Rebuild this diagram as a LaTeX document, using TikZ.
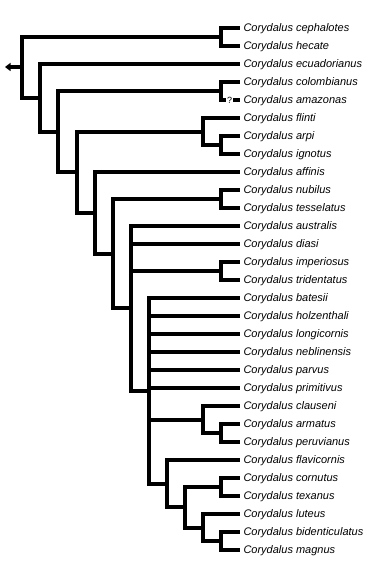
\documentclass[tikz,border=0pt]{standalone}
\usepackage{fontspec}
\setmainfont{Liberation Sans}
\usetikzlibrary{arrows.meta}

\begin{document}
\begin{tikzpicture}[x=1pt, y=-1pt,
    taxon/.style={anchor=west, inner sep=0pt, outer xsep=3.5pt, text height=10pt, text depth=2.6pt, font=\fontsize{11}{13}\selectfont\itshape},
    branch/.style={line width=3.6pt, line join=miter}]
      \useasboundingbox (0,0) rectangle (368,561);

      % taxa
      \node[taxon] (ceph) at (240,28) {Corydalus cephalotes};
      \node[taxon] (hec) at (240,46) {Corydalus hecate};
      \node[taxon] (ecua) at (240,64) {Corydalus ecuadorianus};
      \node[taxon] (colo) at (240,82) {Corydalus colombianus};
      \node[taxon] (amaz) at (240,100) {Corydalus amazonas};
      \node[taxon] (flin) at (240,118) {Corydalus flinti};
      \node[taxon] (arpi) at (240,136) {Corydalus arpi};
      \node[taxon] (igno) at (240,154) {Corydalus ignotus};
      \node[taxon] (affi) at (240,172) {Corydalus affinis};
      \node[taxon] (nubi) at (240,190) {Corydalus nubilus};
      \node[taxon] (tess) at (240,208) {Corydalus tesselatus};
      \node[taxon] (aust) at (240,226) {Corydalus australis};
      \node[taxon] (dias) at (240,244) {Corydalus diasi};
      \node[taxon] (impe) at (240,262) {Corydalus imperiosus};
      \node[taxon] (trid) at (240,280) {Corydalus tridentatus};
      \node[taxon] (bate) at (240,298) {Corydalus batesii};
      \node[taxon] (holz) at (240,316) {Corydalus holzenthali};
      \node[taxon] (long) at (240,334) {Corydalus longicornis};
      \node[taxon] (nebl) at (240,352) {Corydalus neblinensis};
      \node[taxon] (parv) at (240,370) {Corydalus parvus};
      \node[taxon] (prim) at (240,388) {Corydalus primitivus};
      \node[taxon] (clau) at (240,406) {Corydalus clauseni};
      \node[taxon] (arma) at (240,424) {Corydalus armatus};
      \node[taxon] (peru) at (240,442) {Corydalus peruvianus};
      \node[taxon] (flav) at (240,460) {Corydalus flavicornis};
      \node[taxon] (corn) at (240,478) {Corydalus cornutus};
      \node[taxon] (texa) at (240,496) {Corydalus texanus};
      \node[taxon] (lute) at (240,514) {Corydalus luteus};
      \node[taxon] (bide) at (240,532) {Corydalus bidenticulatus};
      \node[taxon] (magn) at (240,550) {Corydalus magnus};
      \node[inner sep=0pt, outer xsep=1pt, font=\fontsize{9}{9}\selectfont] (qm) at (229.5,100) {?};

      % internal nodes
      \coordinate (root) at (22,67);
      \coordinate (anc) at (5,67);
      \coordinate (cc) at (221,37);
      \coordinate (n2) at (40,98);
      \coordinate (n3) at (58,132);
      \coordinate (ca) at (221,91);
      \coordinate (n4) at (77,172);
      \coordinate (fai) at (203,132);
      \coordinate (ai) at (221,145);
      \coordinate (n5) at (95,213);
      \coordinate (n6) at (113,254);
      \coordinate (nt) at (221,199);
      \coordinate (n7) at (131,308);
      \coordinate (it) at (221,271);
      \coordinate (n8) at (149,391);
      \coordinate (cap) at (203,420);
      \coordinate (ap) at (221,433);
      \coordinate (n9) at (167,484);
      \coordinate (n10) at (185,507);
      \coordinate (ct) at (221,487);
      \coordinate (lbm) at (203,528);
      \coordinate (bm) at (221,541);

      \draw[branch, -{Triangle[length=5.5pt, width=8pt]}] (root) -- (anc);
      \draw[branch] (root) |- (cc);
      \draw[branch] (root) |- (n2);
      \draw[branch] (cc) |- (ceph.west);
      \draw[branch] (cc) |- (hec.west);
      \draw[branch] (n2) |- (ecua.west);
      \draw[branch] (n2) |- (n3);
      \draw[branch] (n3) |- (ca);
      \draw[branch] (n3) |- (n4);
      \draw[branch] (ca) |- (colo.west);
      \draw[branch] (ca) |- (qm.west);
      \draw[branch] (qm.east) -- (amaz.west);
      \draw[branch] (n4) |- (fai);
      \draw[branch] (n4) |- (n5);
      \draw[branch] (fai) |- (flin.west);
      \draw[branch] (fai) |- (ai);
      \draw[branch] (ai) |- (arpi.west);
      \draw[branch] (ai) |- (igno.west);
      \draw[branch] (n5) |- (affi.west);
      \draw[branch] (n5) |- (n6);
      \draw[branch] (n6) |- (nt);
      \draw[branch] (n6) |- (n7);
      \draw[branch] (nt) |- (nubi.west);
      \draw[branch] (nt) |- (tess.west);
      \draw[branch] (n7) |- (aust.west);
      \draw[branch] (n7) |- (dias.west);
      \draw[branch] (n7) |- (it);
      \draw[branch] (n7) |- (n8);
      \draw[branch] (it) |- (impe.west);
      \draw[branch] (it) |- (trid.west);
      \draw[branch] (n8) |- (bate.west);
      \draw[branch] (n8) |- (holz.west);
      \draw[branch] (n8) |- (long.west);
      \draw[branch] (n8) |- (nebl.west);
      \draw[branch] (n8) |- (parv.west);
      \draw[branch] (n8) |- (prim.west);
      \draw[branch] (n8) |- (cap);
      \draw[branch] (n8) |- (n9);
      \draw[branch] (cap) |- (clau.west);
      \draw[branch] (cap) |- (ap);
      \draw[branch] (ap) |- (arma.west);
      \draw[branch] (ap) |- (peru.west);
      \draw[branch] (n9) |- (flav.west);
      \draw[branch] (n9) |- (n10);
      \draw[branch] (n10) |- (ct);
      \draw[branch] (n10) |- (lbm);
      \draw[branch] (ct) |- (corn.west);
      \draw[branch] (ct) |- (texa.west);
      \draw[branch] (lbm) |- (lute.west);
      \draw[branch] (lbm) |- (bm);
      \draw[branch] (bm) |- (bide.west);
      \draw[branch] (bm) |- (magn.west);
    \end{tikzpicture}
\end{document}
